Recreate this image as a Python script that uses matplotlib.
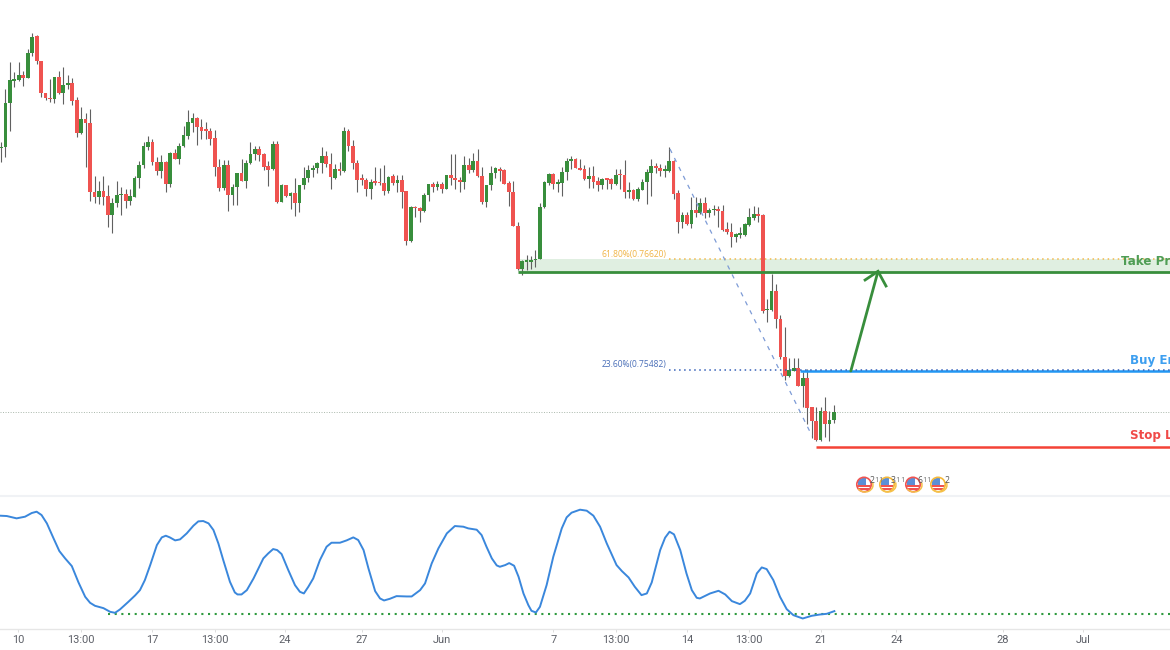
import numpy as np
import matplotlib
matplotlib.use("Agg")
import matplotlib.pyplot as plt
from matplotlib.patches import Circle, Rectangle, Arc

# Prices in chart units of 0.000034 (axis is unlabelled in the source picture)
opens = [1055,1060,1190,1258,1260,1274,1266,1340,1392,1317,1220,1207,1202,1269,1220,1245,1252,1199,1100,1144,
 1130,924,908,926,912,855,890,914,918,897,910,965,1005,1060,1074,1015,987,1015,948,1041,
 1024,1062,1092,1132,1147,1120,1109,1107,1085,999,937,1004,915,940,980,958,1012,1038,1054,1038,
 1002,992,1067,894,944,912,920,890,945,965,989,996,1010,1032,1007,967,992,987,1106,1062,
 1010,962,961,934,955,954,950,927,971,951,960,926,776,878,876,868,915,948,938,948,
 934,976,967,961,954,1005,991,1016,972,894,944,981,994,990,950,924,823,693,714,715,
 719,723,879,950,977,948,950,985,1016,1023,997,992,963,973,956,945,963,962,948,976,
 975,925,930,902,930,953,982,1003,997,987,988,1017,920,835,856,828,870,860,892,860,
 869,870,868,812,805,789,795,795,825,846,858,855,569,569,628,542,430,373,388,395,
 343,365,278,237,179,268,227,240]
highs = [1075,1232,1315,1285,1313,1287,1352,1400,1395,1317,1220,1262,1270,1287,1298,1274,1265,1210,1178,1162,
 1172,973,956,973,944,905,957,940,932,932,973,1018,1075,1093,1082,1030,1035,1018,1045,1052,
 1072,1122,1170,1160,1149,1144,1134,1115,1110,1022,1020,1020,948,982,1023,1020,1075,1063,1062,1042,
 1016,1078,1078,948,944,925,965,946,1000,1005,1005,1015,1060,1046,1042,1008,1013,1118,1113,1080,
 1020,977,966,962,999,997,1005,973,977,975,975,927,882,882,880,920,948,955,958,955,
 976,1037,1037,970,1033,1025,1042,1052,1000,945,1002,1000,998,992,958,958,833,720,735,732,
 750,892,957,980,980,962,998,1025,1032,1025,1023,1005,998,1002,968,965,965,967,992,992,
 1020,955,932,940,962,992,1023,1012,1007,1005,1058,1020,930,865,865,908,910,907,910,875,
 885,883,885,835,832,800,818,830,875,881,880,858,604,678,647,555,518,425,425,425,
 385,393,278,278,278,310,268,286]
lows = [1015,1030,1108,1240,1258,1242,1265,1333,1308,1208,1200,1194,1192,1218,1188,1232,1184,1088,1098,998,
 897,892,888,884,820,800,880,855,875,885,908,935,997,1050,1004,975,967,923,940,1022,
 1008,1058,1082,1105,1066,1082,1082,1066,972,927,930,867,885,884,956,937,1008,1020,1018,990,
 943,990,890,894,908,874,852,865,934,955,970,980,982,998,932,963,975,985,1046,992,
 925,945,912,902,945,944,915,922,944,925,877,766,774,848,835,865,898,925,930,920,
 932,945,932,925,933,980,985,970,887,880,930,965,957,948,882,822,690,675,690,692,
 700,722,876,945,932,925,913,960,992,995,990,960,937,937,928,933,932,932,945,932,
 905,905,900,898,930,888,912,980,972,970,985,902,800,815,825,815,848,858,845,848,
 855,820,808,798,758,775,785,793,823,840,835,560,535,567,516,422,360,370,388,342,
 278,228,185,178,178,190,178,230]
closes = [1060,1190,1260,1262,1274,1266,1342,1390,1317,1220,1206,1202,1269,1220,1245,1252,1198,1102,1144,1130,
 924,908,926,910,855,891,915,919,897,912,966,1005,1063,1074,1013,987,1014,948,1041,1024,
 1063,1094,1133,1146,1119,1107,1107,1083,998,937,1004,915,940,980,958,1012,1038,1054,1036,999,
 991,1067,894,944,913,920,890,946,966,990,997,1010,1031,1007,969,992,986,1107,1062,1010,
 961,960,934,955,952,950,927,970,951,960,925,776,879,875,868,916,948,938,948,934,
 976,966,961,954,1005,991,1016,972,894,944,982,995,987,949,923,823,693,716,716,719,
 724,880,953,977,947,950,985,1017,1023,996,991,963,973,955,945,962,961,948,975,974,
 925,930,902,932,953,983,1003,996,987,990,1017,918,835,856,828,870,862,890,860,870,
 871,867,810,804,789,797,798,827,848,857,852,568,571,628,542,428,373,390,395,343,
 365,276,236,179,268,227,241,265]

# Oscillator pane
osc_pos = [-0.2,1.3,3.5,5.4,6.9,8.0,9.1,10.3,11.8,13.1,14.4,15.9,17.4,18.9,20.0,21.1,23.0,24.5,25.6,26.7,
 28.6,30.1,31.2,32.3,33.5,35.0,36.1,37.0,37.9,39.1,40.2,41.7,43.2,44.3,45.4,46.6,47.7,48.8,49.9,51.4,
 52.5,53.1,54.0,55.2,56.7,58.9,60.0,61.1,62.0,63.0,64.5,66.0,67.1,68.0,69.0,70.1,71.6,73.1,74.2,76.1,
 77.6,79.1,80.2,81.4,82.5,84.0,85.1,86.0,87.3,88.8,91.1,92.2,94.1,95.2,96.7,98.2,100.1,101.9,103.8,104.9,
 106.8,107.9,109.0,110.2,111.3,112.0,113.2,114.1,115.2,116.2,117.3,118.4,119.1,120.1,121.0,122.5,124.0,125.9,127.0,128.1,
 130.0,131.5,133.0,134.5,136.0,138.2,139.4,140.9,142.3,143.8,145.0,146.1,148.0,149.1,150.1,151.1,152.5,153.9,155.1,156.2,
 156.9,159.2,161.1,162.6,164.1,165.9,167.0,168.2,169.7,170.8,171.9,173.4,174.9,176.4,177.9,180.0,182.0,183.9,185.4,187.1]
osc_val = [296,295,288,293,304,308,298,273,228,190,168,145,96,53,35,26,19,8,5,15,
 38,57,73,103,148,208,231,236,231,222,225,243,266,279,280,273,253,213,163,98,
 66,60,60,73,108,168,183,196,193,181,133,88,68,63,83,108,163,203,215,215,
 222,231,223,193,138,70,48,42,47,55,54,54,73,93,153,198,243,265,263,258,
 254,238,203,168,147,143,148,154,146,113,63,28,11,6,23,88,173,258,291,305,
 314,311,296,263,213,148,130,111,83,58,63,96,193,230,248,240,193,123,73,50,
 48,63,71,60,40,31,41,63,123,141,136,103,53,16,-2,-12,-4,0,2,10]

# Date axis
tick_pos = [3.9,18.0,34.0,48.0,63.8,81.0,99.0,124.0,138.0,154.0,168.0,184.0,201.0,225.0,243.0]
tick_labels = ["10","13:00","17","13:00","24","27","Jun","7","13:00","14","13:00","21","24","28","Jul"]

# Levels drawn on the chart
take_profit = 685
fib_618 = 724
fib_236 = 390
buy_entry = 387
stop_loss = 160
last_price = 265
osc_floor = 0

GREEN, RED = "#388e3c", "#ef5350"
W, H = 1170, 650
fig = plt.figure(figsize=(W / 100, H / 100), dpi=100, facecolor="white")
plt.rcParams["font.family"] = ["Roboto", "DejaVu Sans"]

def panel(top, bottom):
    return fig.add_axes([0, 1 - bottom / H, 1, (bottom - top) / H])

ax = panel(0, 495)
ax2 = panel(497, 628.5)
xlim = (-0.2245, 262.46)
for a in (ax, ax2):
    a.set_xlim(*xlim)
    for s in a.spines.values():
        s.set_visible(False)
ax.set_ylim(15, 1500)
ax2.set_ylim(-42, 352)
ax.set_xticks([]); ax.set_yticks([]); ax2.set_yticks([])

# separator and time scale line
fig.add_artist(plt.Line2D([0, 1], [1 - 496 / H] * 2, color="#f0f2f5", lw=1.5))
ax2.spines["bottom"].set_visible(True)
ax2.spines["bottom"].set_color("#e6e6e6")
ax2.spines["bottom"].set_linewidth(1)
ax2.set_xticks(tick_pos)
ax2.set_xticklabels(tick_labels, fontsize=7.9, color="#5d6068", family="Roboto")
ax2.tick_params(axis="x", length=2.5, width=0.7, color="#dddddd", pad=2.5)

idx = np.arange(len(opens))
o, h, l, c = map(np.array, (opens, highs, lows, closes))

# green target zone
ax.fill_between([116, xlim[1]], take_profit, fib_618 - 2, color="#e0efe1", lw=0, zorder=1)
ax.axhline(last_price, color="#a9b7ab", lw=0.7, ls=(0, (1, 1.6)), zorder=1)

# candles
colors = np.where(c >= o, GREEN, RED)
ax.vlines(idx, l, h, color="#606060", lw=0.8, zorder=3)
ax.bar(idx, np.abs(c - o).clip(5), bottom=np.minimum(o, c), width=0.84, color=colors, lw=0, zorder=4)

# levels
ax.plot([116, xlim[1]], [take_profit] * 2, color=GREEN, lw=2.0, zorder=5, solid_capstyle="butt")
ax.plot([179.5, xlim[1]], [buy_entry] * 2, color="#2196f3", lw=1.8, zorder=5, solid_capstyle="butt")
ax.plot([183, xlim[1]], [stop_loss] * 2, color="#f44336", lw=1.8, zorder=5, solid_capstyle="butt")
ax.plot([150, xlim[1]], [fib_618] * 2, color="#f3b84a", lw=1.1, ls=(0, (1, 2.3)), zorder=2)
ax.plot([150, xlim[1]], [fib_236] * 2, color="#3560b8", lw=1.1, ls=(0, (1, 2.3)), zorder=6)
ax.plot([150.2, 182.1], [1053, 192], color="#7d9bd6", lw=0.9, ls=(0, (3.5, 4.5)), zorder=6)

ax.text(149.3, fib_618 + 13, "61.80%(0.76620)", ha="right", va="center", fontsize=6.15, color="#f0b445", family="Open Sans")
ax.text(149.3, fib_236 + 15, "23.60%(0.75482)", ha="right", va="center", fontsize=6.15, color="#4a6fb8", family="Open Sans")

lab = dict(fontsize=8.6, fontweight="bold", family="DejaVu Sans", va="center", ha="left", clip_on=True)
ax.text(251.5, 714, "Take Profit", color="#4f9d55", **lab)
ax.text(253.5, 417, "Buy Entry", color="#3d9ff0", **lab)
ax.text(253.5, 192, "Stop Loss", color="#f04a48", **lab)

# trade arrow: shaft and hand-drawn head
ax.plot([190.8, 196.9], [387, 686], color=GREEN, lw=2.0, zorder=7, solid_capstyle="round")
ax.plot([194.0, 196.9, 198.7], [660, 686, 642], color=GREEN, lw=2.0, zorder=7, solid_joinstyle="miter")

# oscillator
ax2.plot(osc_pos, osc_val, color="#3a87dc", lw=1.4, solid_joinstyle="round", zorder=3)
ax2.plot([24, xlim[1]], [osc_floor] * 2, color="#2e9a3e", lw=1.5, ls=(0, (1, 2.2)), zorder=2)

# economic event badges, in a pixel overlay
ov = fig.add_axes([0, 0, 1, 1], facecolor="none")
ov.set_xlim(0, W); ov.set_ylim(H, 0); ov.axis("off")
badges = [(864, "#ef5350", "2", (872, 877, 881)), (887, "#f5b93a", "3", (893, 898, 903)),
          (913, "#ef5350", "6", (920, 925, 929)), (938, "#f5b93a", "2", (947,))]
for cx, ring, n, txs in badges:
    cy = 484.5
    clip = Circle((cx, cy), 6.8, transform=ov.transData)
    ov.add_patch(Circle((cx, cy), 6.8, fc="white", ec="none"))
    for yy in [cy + 0.8, cy + 3.6]:
        r = Rectangle((cx - 8, yy), 16, 1.7, fc="#ef5350", ec="none")
        ov.add_patch(r); r.set_clip_path(clip)
    r = Rectangle((cx - 6, cy - 6.5), 8, 7, fc="#5b8fd6", ec="none")
    ov.add_patch(r); r.set_clip_path(clip)
    ov.add_patch(Circle((cx, cy), 7.2, fc="none", ec=ring, lw=1.2))
    ov.add_patch(Arc((cx + 1, cy + 0.5), 16, 14, theta1=-20, theta2=150, color="#f5c04a", lw=1.1))
    ov.text(txs[0], cy - 4, n, fontsize=6.2, color="#555555", ha="center", va="center", family="Open Sans")
    for tx in txs[1:]:
        ov.text(tx, cy - 4, "1", fontsize=5.6, color="#777777", ha="center", va="center", family="Open Sans")

fig.savefig("out.png", dpi=100, facecolor="white")
